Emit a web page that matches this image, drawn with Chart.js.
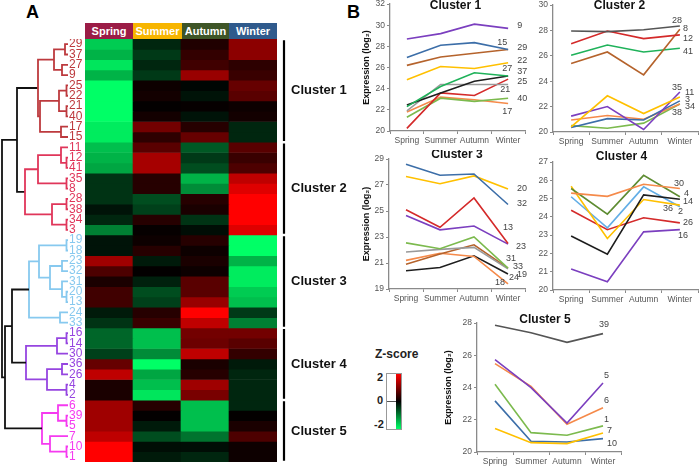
<!DOCTYPE html>
<html>
<head>
<meta charset="utf-8">
<script src="https://cdn.jsdelivr.net/npm/chart.js@4.4.1/dist/chart.umd.min.js"></script>
<style>
body{margin:0;width:700px;height:467px;background:#fff;position:relative;overflow:hidden;font-family:Arial,"Liberation Sans",sans-serif}
canvas{position:absolute;display:block}
.hd{position:absolute;top:23px;height:16px;line-height:16px;color:#fff;font-weight:bold;font-size:11px;text-align:center}
.lt{position:absolute;font-weight:bold;font-size:18px}
.zl{position:absolute;font-weight:bold;font-size:11px;color:#222}
</style>
</head>
<body>
<div class="lt" style="left:26px;top:2px">A</div>
<div class="lt" style="left:347px;top:2px">B</div>

<div class="hd" style="left:85px;width:48px;background:#9b1c46">Spring</div>
<div class="hd" style="left:133px;width:49px;background:#f7b500">Summer</div>
<div class="hd" style="left:182px;width:47px;background:#3e5527">Autumn</div>
<div class="hd" style="left:229px;width:48px;background:#2f5a8c">Winter</div>

<canvas id="dendro" width="84" height="423" style="left:0;top:39px"></canvas>
<canvas id="heat" width="192" height="423" style="left:85px;top:39px"></canvas>
<canvas id="brackets" width="80" height="423" style="left:278px;top:39px"></canvas>

<div class="zl" style="left:375px;top:347px;font-size:12px">Z-score</div>
<div style="position:absolute;left:386px;top:373px;width:16px;height:57px;box-sizing:border-box;border:1px solid #999;background:#fff">
  <div style="position:absolute;right:0;top:0;width:5px;height:100%;background:linear-gradient(#ff0000,#000 50%,#00ff66)"></div>
  <div style="position:absolute;left:0;right:5px;top:27px;height:1px;background:#555"></div>
</div>
<div class="zl" style="left:377px;top:371px">2</div>
<div class="zl" style="left:377px;top:394px">0</div>
<div class="zl" style="left:374px;top:418px">-2</div>

<canvas id="c1" width="172" height="150" style="left:358px;top:0"></canvas>
<canvas id="c2" width="175" height="150" style="left:525px;top:0"></canvas>
<canvas id="c3" width="172" height="160" style="left:358px;top:150px"></canvas>
<canvas id="c4" width="175" height="160" style="left:525px;top:150px"></canvas>
<canvas id="c5" width="190" height="157" style="left:440px;top:310px"></canvas>

<script>
const seasons = ["Spring","Summer","Autumn","Winter"]

// heatmap rows, top to bottom
const leafOrder = ["29","37","27","9","25","22","21","40","17","15",
  "11","12","41","35","8","28","38","34","3",
  "19","18","23","32","31","20","13","24","33",
  "16","14","30","36","26","4","2",
  "6","39","5","7","10","1"]
const zSpring = [-1.6,-1.4,-1.8,-1.4,-2,-2,-2,-2,-1.85,-1.85,
  -1.5,-1.4,-1.3,-0.4,-0.4,-0.4,-0.15,-0.3,-1.0,
  -0.15,-0.15,1.25,0.6,0.2,0.5,0.5,-0.2,-0.4,
  -0.8,-0.8,-0.5,0.8,1.5,0.2,0.2,
  1.25,1.25,1.25,1.5,2,2]
const zSummer = [-0.3,-0.45,-0.3,-0.45,0.1,0.15,0.02,0.15,0.9,0.35,
  0.7,1.3,1.3,0.3,0.3,-0.6,-0.5,0.3,0.05,
  0.1,0.3,-0.2,0.02,-0.25,-0.6,-0.5,0.3,0.45,
  -1.5,-1.5,-1.1,-2,-1.3,-1.5,-1.8,
  0.3,0.02,-0.2,-0.6,-0.1,-0.2]
const zAutumn = [0.25,0.4,0.5,1.2,-0.05,-0.15,0.05,-0.15,0.3,0.8,
  -0.7,-0.45,-0.6,-1.4,-1.1,0.3,0.2,-0.4,-0.1,
  0.3,0.1,0.2,0.1,0.7,0.7,1.2,2,1.5,
  0.9,0.85,1.5,0.2,0.3,1.25,0.95,
  -1.5,-1.5,-1.5,-0.9,-0.1,-0.3]
const zWinter = [1.1,1.1,0.35,0.45,0.8,0.7,0.1,0.15,-0.3,-0.3,
  0.7,0.45,0.6,1.5,1.75,2,2,2,1.75,
  -2,-2,-1.4,-1.85,-1.85,-1.6,-1.5,-0.45,-1.0,
  0.9,0.7,0.4,-0.2,-0.3,-0.3,-0.3,
  -0.3,0.02,0.2,0.6,0.1,0.1]

const clusterNames = ["Cluster 1","Cluster 2","Cluster 3","Cluster 4","Cluster 5"]
const clusterSizes = [10,9,9,7,6]

// dendrogram merges: [node, left, right, height]
const merges = [
  ["c1a","29","37",3],["c1b","27","9",6],["c1c","c1a","c1b",14],
  ["c1d","25","22",1.5],["c1e","21","40",1.5],["c1f","c1d","c1e",9],
  ["c1g","17","15",7],["c1h","c1f","c1g",28],["C1","c1c","c1h",30],
  ["c2a","12","41",1.5],["c2b","11","c2a",7],["c2c","35","8",1.5],["c2d","c2b","c2c",30],
  ["c2e","28","38",1.5],["c2f","34","3",1.5],["c2g","c2e","c2f",16],["C2","c2d","c2g",43],
  ["C12","C1","C2",51],
  ["c3a","19","18",1.5],["c3b","23","32",6],["c3c","20","13",1.5],["c3d","31","c3c",6],
  ["c3e","c3b","c3d",18],["c3f","c3a","c3e",29],["c3g","24","33",8],["C3","c3f","c3g",39],
  ["c4a","16","14",1.5],["c4b","c4a","30",11],["c4c","36","26",6],["c4d","4","2",1.5],
  ["c4e","c4c","c4d",21],["C4","c4b","c4e",42],
  ["C34","C3","C4",56],
  ["c5a","39","5",1.5],["c5b","6","c5a",10],["c5c","10","1",1.5],["c5d","7","c5c",18],["C5","c5b","c5d",26],
  ["C345","C34","C5",63],
  ["root","C12","C345",66]
]

// expression profiles (log2), Spring..Winter
const cluster1Genes = ["9","15","29","22","37","27","21","25","40","17"]
const cluster1Values = [
  [28.7,29.2,30.1,29.7],[26.95,28.1,28.35,27.7],[26.2,27.0,27.35,27.7],[24.85,26.1,25.9,26.45],
  [22.3,24.2,25.5,25.2],[22.45,23.6,24.7,25.2],[21.9,24.4,24.4,24.4],[20.25,23.6,23.35,24.9],
  [21.3,23.1,22.8,23.1],[21.8,23.2,22.95,22.6]]
const cluster2Genes = ["28","12","8","41","35","11","3","34","38"]
const cluster2Values = [
  [27.95,27.9,28.05,28.35],[26.95,27.95,27.35,27.65],[25.4,26.3,24.5,28.1],[26.05,26.85,26.3,26.6],
  [20.4,22.85,21.45,22.75],[21.25,22.0,20.2,23.15],[20.35,21.05,20.95,22.45],[20.95,21.3,21.0,22.2],
  [20.5,20.3,20.7,22.2]]
const cluster3Genes = ["32","20","13","23","31","33","24","18","19"]
const cluster3Values = [
  [28.6,27.75,27.85,25.5],[27.65,27.1,27.7,26.7],[25.1,23.75,26.0,22.5],[24.65,23.55,23.85,22.45],
  [22.55,22.1,23.0,20.6],[21.85,22.05,22.2,20.55],[20.9,21.7,22.4,20.6],[21.2,21.75,21.5,19.4],
  [20.4,20.65,21.55,20.15]]
const cluster4Genes = ["30","4","14","36","2","26","16"]
const cluster4Values = [
  [25.3,25.12,25.78,25.55],[25.55,24.15,26.27,25.1],[22.95,21.96,25.2,24.96],[25.67,22.82,24.95,24.64],
  [25.1,23.4,25.64,24.55],[24.36,23.3,23.95,23.67],[21.15,20.45,23.18,23.3]]
const cluster5Genes = ["39","5","6","1","7","10"]
const cluster5Values = [
  [27.86,27.4,26.8,27.34],[25.73,23.99,21.8,24.28],[25.48,24.07,21.72,22.75],[24.2,21.2,21.04,21.62],
  [21.45,20.58,20.52,21.18],[23.17,20.67,20.62,20.83]]

// styles
const FONT = 'Arial, "Liberation Sans", sans-serif'
Chart.defaults.font.family = FONT
Chart.defaults.plugins.legend.display = false
Chart.defaults.plugins.tooltip.enabled = false

const clusterColor = ['#bd3a3e','#e0365a','#87c9ef','#9645e0','#f53af0']
const col = {purple:'#7b3fbf',blue:'#3c6ea8',brown:'#b5632c',yellow:'#ffc000',green:'#1fb25a',black:'#1e1e1e',
  gray:'#9a9a9a',red:'#d42a2a',lime:'#7cba4e',orange:'#f58a4a',sky:'#63aee6',olive:'#5e8c32',dark:'#555555'}

function zColor(v){
  const t = Math.min(Math.abs(v)/2,1)
  return v>=0 ? `rgb(${Math.round(255*t)},0,0)` : `rgb(0,${Math.round(255*t)},${Math.round(102*t)})`
}

// ---- dendrogram ----
const clusterOf = {}
let k=0
clusterSizes.forEach((n,c)=>{ for(let j=0;j<n;j++) clusterOf[leafOrder[k++]]=c })

const pos = {}, leaves = {}
leafOrder.forEach((g,i)=>{ pos[g]={y:i,h:0}; leaves[g]=[g] })
const segs = {}
merges.forEach(([name,l,r,h])=>{
  const L=pos[l], R=pos[r]
  pos[name]={y:(L.y+R.y)/2,h}
  leaves[name]=leaves[l].concat(leaves[r])
  const cs=new Set(leaves[name].map(g=>clusterOf[g]))
  const c = cs.size===1 ? clusterColor[[...cs][0]] : '#111'
  if(!segs[c]) segs[c]=[]
  segs[c].push({x:L.h,y:L.y},{x:h,y:L.y},{x:h,y:R.y},{x:R.h,y:R.y},{x:null,y:null})
})

new Chart(document.getElementById('dendro'),{
  type:'scatter',
  data:{datasets:Object.keys(segs).map(c=>({data:segs[c],borderColor:c,borderWidth:1.8,showLine:true,pointRadius:0,spanGaps:false}))},
  options:{
    responsive:false,animation:false,devicePixelRatio:1,
    layout:{padding:0},
    scales:{
      x:{type:'linear',min:0,max:68,reverse:true,display:false},
      y:{type:'linear',position:'right',min:-0.5,max:40.5,reverse:true,
        grid:{display:false,drawTicks:false},border:{display:false},
        afterBuildTicks:ax=>{ ax.ticks=leafOrder.map((_,i)=>({value:i})) },
        afterFit:ax=>{ ax.width=16; ax.paddingTop=0; ax.paddingBottom=0 },
        ticks:{autoSkip:false,padding:1,font:{size:12,family:'"Liberation Sans Narrow", '+FONT},
          color:c=>clusterColor[clusterOf[leafOrder[c.index]]],
          callback:(v,i)=>leafOrder[i]}}
    }
  }
})

// ---- heatmap ----
const zCols = [zSpring,zSummer,zAutumn,zWinter]
new Chart(document.getElementById('heat'),{
  type:'bar',
  data:{labels:seasons,datasets:leafOrder.map((g,i)=>({
    label:g,data:[1,1,1,1],backgroundColor:zCols.map(z=>zColor(z[i])),
    borderWidth:0,barPercentage:1,categoryPercentage:1}))},
  options:{
    responsive:false,animation:false,devicePixelRatio:1,layout:{padding:0},
    scales:{x:{stacked:true,display:false},y:{stacked:true,display:false,min:0,max:41,reverse:true}}
  }
})

// ---- cluster brackets ----
const bracketPts = []
let start=0
clusterSizes.forEach(n=>{
  bracketPts.push({x:6,y:start+0.12},{x:6,y:start+n-0.12},{x:null,y:null})
  start+=n
})
const bracketLabels = {
  id:'bracketLabels',
  afterDraw(chart){
    const ctx=chart.ctx, ys=chart.scales.y, xs=chart.scales.x
    ctx.save()
    ctx.font='bold 13px '+FONT
    ctx.fillStyle='#111'
    ctx.textBaseline='middle'
    let s=0
    clusterSizes.forEach((n,i)=>{
      ctx.fillText(clusterNames[i],xs.getPixelForValue(13),ys.getPixelForValue(s+n/2))
      s+=n
    })
    ctx.restore()
  }
}
new Chart(document.getElementById('brackets'),{
  type:'scatter',
  data:{datasets:[{data:bracketPts,borderColor:'#000',borderWidth:2.2,showLine:true,pointRadius:0,spanGaps:false}]},
  options:{
    responsive:false,animation:false,devicePixelRatio:1,layout:{padding:0},
    scales:{x:{type:'linear',min:0,max:80,display:false},y:{type:'linear',min:0,max:41,reverse:true,display:false}}
  },
  plugins:[bracketLabels]
})

// ---- line panels ----
const endLabels = {
  id:'endLabels',
  afterDatasetsDraw(chart,args,o){
    const ctx=chart.ctx
    ctx.save()
    ctx.font='9px '+FONT
    ctx.fillStyle='#444'
    ctx.textBaseline='middle'
    chart.data.datasets.forEach((ds,i)=>{
      const pt=chart.getDatasetMeta(i).data[3]
      const s=o.shift[ds.label]||[8,0]
      ctx.fillText(ds.label,pt.x+s[0],pt.y+s[1])
    })
    ctx.restore()
  }
}
const panelTitle = {
  id:'panelTitle',
  afterDraw(chart,args,o){
    const a=chart.chartArea, ctx=chart.ctx
    ctx.save()
    ctx.font='bold 12px '+FONT
    ctx.fillStyle='#111'
    ctx.textAlign='center'
    ctx.textBaseline='middle'
    ctx.fillText(o.text,(a.left+a.right)/2+o.dx,a.top+o.dy)
    ctx.restore()
  }
}

function makePanel(p,title,genes,values,colors,shift){
  new Chart(document.getElementById(p.id),{
    type:'line',
    data:{labels:seasons,datasets:genes.map((g,i)=>({label:g,data:values[i],borderColor:col[colors[i]],
      borderWidth:1.6,pointRadius:0,tension:0,fill:false}))},
    options:{
      responsive:false,animation:false,devicePixelRatio:1,
      layout:{padding:{top:p.padTop,right:p.padRight,left:0,bottom:0}},
      plugins:{endLabels:{shift},panelTitle:{text:title,dx:p.tdx,dy:p.tdy}},
      scales:{
        x:{offset:true,
          grid:{offset:true,drawOnChartArea:false,tickLength:3,color:'#8a8a8a'},
          border:{color:'#8a8a8a',width:1.3},
          ticks:{color:'#555',font:{size:8.5},padding:2,maxRotation:0,autoSkip:false},
          afterFit:s=>{ s.height=p.xH; s.paddingLeft=0; s.paddingRight=0 }},
        y:{min:p.min,max:p.max,
          ticks:{stepSize:p.step,color:'#555',font:{size:8.5},padding:2},
          grid:{drawOnChartArea:false,tickLength:3,color:'#8a8a8a'},
          border:{color:'#8a8a8a',width:1.3},
          title:{display:p.yTitle,text:'Expression (log₂)',font:{size:9,weight:'bold'},color:'#111',padding:{top:3,bottom:0}},
          afterFit:s=>{ s.width=p.yW; s.paddingTop=0; s.paddingBottom=0 }}
      }
    },
    plugins:[endLabels,panelTitle]
  })
}

makePanel({id:'c1',yW:32,xH:19,padTop:4,padRight:5,min:20,max:32,step:2,yTitle:true,tdx:-2,tdy:2},
  'Cluster 1',cluster1Genes,cluster1Values,
  ['purple','blue','brown','yellow','green','black','gray','red','lime','orange'],
  {'9':[9,-3],'15':[-11,-7],'29':[9,-2],'22':[9,-2],'27':[-6,-7],'37':[9,-4],'25':[9,2],'21':[-8,5],'40':[9,0],'17':[-6,8]})
makePanel({id:'c2',yW:28,xH:18,padTop:5,padRight:2,min:20,max:30,step:2,yTitle:false,tdx:-6,tdy:1},
  'Cluster 2',cluster2Genes,cluster2Values,
  ['dark','red','brown','green','yellow','purple','blue','orange','lime'],
  {'28':[-8,-5],'8':[3,-1],'12':[3,4],'41':[3,3],'35':[-8,-10],'11':[5,1],'3':[5,-1],'34':[5,2],'38':[-8,8]})
makePanel({id:'c3',yW:31,xH:21,padTop:9,padRight:5,min:19,max:29,step:2,yTitle:true,tdx:0,tdy:-4},
  'Cluster 3',cluster3Genes,cluster3Values,
  ['blue','yellow','red','purple','lime','gray','brown','orange','black'],
  {'20':[9,0],'32':[9,-1],'13':[-5,-16],'23':[8,2],'31':[-2,-10],'33':[5,-2],'19':[9,0],'24':[1,9],'18':[-13,-1]})
makePanel({id:'c4',yW:28,xH:20,padTop:12,padRight:2,min:20,max:27,step:1,yTitle:false,tdx:-4,tdy:-5},
  'Cluster 4',cluster4Genes,cluster4Values,
  ['orange','olive','black','yellow','sky','red','purple'],
  {'30':[-6,-5],'4':[4,-3],'14':[3,2],'36':[-17,3],'2':[-2,5],'26':[3,0],'16':[-2,6]})
makePanel({id:'c5',yW:37,xH:15,padTop:13,padRight:9,min:20,max:28,step:2,yTitle:true,tdx:-4,tdy:-3},
  'Cluster 5',cluster5Genes,cluster5Values,
  ['dark','purple','orange','lime','yellow','blue'],
  {'39':[-4,-9],'5':[1,-7],'6':[1,-7],'1':[1,-6],'7':[4,-2],'10':[4,5]})
</script>
</body>
</html>
